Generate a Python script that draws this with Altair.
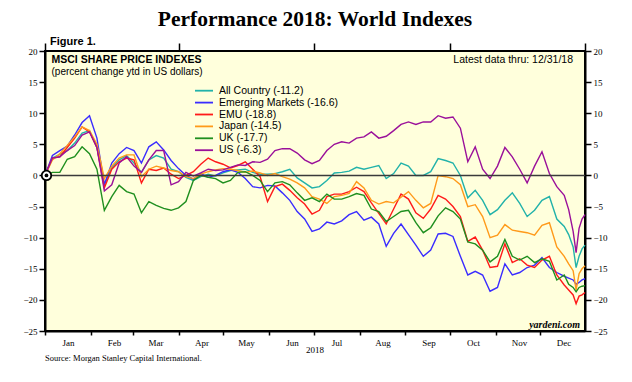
import altair as alt
import pandas as pd

# ---------------- data ----------------
days = list(range(0, 351, 5)) + [353, 356, 358, 360, 362, 364]

series_names = ["All Country", "Emerging Markets", "EMU", "Japan", "UK", "US"]
legend_labels = ["All Country (-11.2)", "Emerging Markets (-16.6)", "EMU (-18.8)",
                 "Japan (-14.5)", "UK (-17.7)", "US (-6.3)"]
colors = ["#22b2aa", "#3a2cff", "#ff1a1a", "#ff9a1a", "#1f8f1f", "#9a109a"]

all_country = [0, 2.8, 3.4, 4.0, 5.2, 6.8, 7.2, 4.5, -1.5, 1.2,
               2.5, 3.2, 2.0, 0.5, 2.5, 3.2, 2.8, 1.0, 0.6, -0.3,
               -0.8, -0.2, 0.2, -0.1, 0.4, 0.8, 0.9, 1.0, 0.5, 0.2,
               0.2, 0.3, 0.6, 1.0, -0.4, -1.2, -2.0, -1.8, -0.8, 0.4,
               0.5, 0.7, 1.3, 1.0, 1.3, 1.6, -0.5, 0.3, 2.0, 1.5,
               0.0, 0.0, 0.6, 2.7, 2.4, 2.0, 0.0, -3.6, -2.4, -4.0,
               -6.3, -5.5, -4.0, -2.8, -4.5, -6.6, -5.6, -4.0, -3.4, -7.0,
               -8.2, -9.5, -11.5, -14.8, -13.0, -11.8, -11.2]
emerging = [0, 3.2, 4.0, 4.7, 6.5, 8.5, 9.6, 6.0, -1.5, 2.0,
            3.5, 4.5, 4.0, 2.0, 4.6, 5.4, 4.1, 2.4, 1.1, 0.0,
            -0.6, 0.3, -0.3, 0.0, 0.6, 0.9, 0.5, -0.5, -1.8, -2.0,
            -1.6, -1.7, -2.8, -4.0, -5.8, -7.0, -9.0, -8.6, -7.5, -7.8,
            -7.3, -6.3, -5.8, -7.2, -6.7, -7.8, -11.4, -9.3, -7.8, -9.5,
            -11.2, -13.0, -12.0, -9.4, -9.3, -9.8, -13.0, -16.0, -15.4, -16.0,
            -18.6, -18.0, -14.2, -16.0, -15.6, -14.8, -14.4, -13.2, -14.8, -15.6,
            -16.2, -16.5, -16.8, -17.5, -17.2, -16.8, -16.6]
emu = [0, 2.8, 3.0, 4.5, 6.0, 7.8, 7.0, 4.5, -2.0, 1.0,
       2.2, 2.8, 2.5, -1.2, 1.0, 0.8, 1.2, 0.2, -0.5, 0.0,
       0.6, 1.8, 2.8, 2.2, 1.8, 1.2, 1.6, 2.2, 1.0, -0.2,
       -4.2, -1.8, -1.4, -2.4, -3.6, -4.6, -6.2, -5.6, -3.4, -3.0,
       -3.0, -2.6, -1.9, -2.6, -4.4, -6.1, -7.8, -5.4, -3.0, -3.8,
       -6.0, -6.9, -5.4, -3.2, -3.8, -5.0, -6.6, -10.6, -9.9, -12.0,
       -14.8, -14.6, -11.0, -14.0, -13.4, -14.4, -14.8, -13.6, -13.0, -16.0,
       -17.6, -18.4, -19.2, -20.6, -19.4, -19.2, -18.8]
japan = [0, 2.5, 3.5, 4.8, 6.2, 7.8, 7.2, 5.0, -0.5, 1.5,
         2.8, 3.3, 3.3, -0.2, 1.0, 1.5, 1.2, 0.8, 0.6, -0.2,
         -0.5, 0.2, 0.6, 0.9, 1.1, 1.0, 0.8, 0.5, 0.7, 0.4,
         0.0, 0.3, -0.2, -0.6, -1.2, -2.0, -3.4, -3.8, -4.5, -3.4,
         -3.2, -2.9, -1.0, -2.0, -4.0, -4.6, -4.2, -4.4, -3.5, -2.6,
         -4.0, -5.2, -4.5, 0.0, -0.2, -0.5, -1.5, -5.0, -4.7, -6.6,
         -10.0, -9.6, -7.9, -8.8, -9.0, -9.2, -9.6, -8.0, -7.6, -11.5,
         -13.0, -14.2, -15.3, -18.4, -15.8, -15.0, -14.5]
uk = [0, 0.5, 0.5, 2.6, 3.0, 4.6, 3.5, 1.0, -5.6, -3.4,
      -1.6, -2.6, -3.0, -6.0, -4.2, -4.8, -5.3, -5.6, -5.2, -4.2,
      -0.8, 0.0, -0.3, -0.5, -1.2, -0.8, 0.5, 0.6, 0.0, -0.8,
      -2.6, -1.2, -1.0, -1.5, -2.8, -4.0, -3.6, -4.2, -3.0, -3.8,
      -3.8, -3.4, -2.9, -3.2, -5.4, -5.8, -7.4, -6.6, -5.8, -5.6,
      -7.6, -9.2, -8.4, -6.5, -5.2, -5.8, -7.0, -10.7, -11.0, -12.0,
      -13.9, -13.0, -10.3, -13.0, -13.6, -13.0, -14.0, -13.4, -13.8, -16.8,
      -16.0, -17.5, -18.0, -18.7, -18.0, -17.8, -17.7]
us = [0, 2.8, 3.0, 4.0, 4.8, 6.5, 7.0, 4.5, -2.5, -1.5,
      2.0, 3.0, 1.5, 0.5, 2.5, 4.0, 4.0, -1.5, -1.0, 0.5,
      -0.1, 0.4, 1.0, 0.8, 0.9, 1.3, 1.7, 1.6, 2.2, 2.1,
      2.6, 4.0, 4.3, 4.3, 3.6, 2.5, 1.9, 2.4, 4.0, 5.0,
      5.4, 5.2, 6.0, 6.2, 7.0, 6.0, 6.3, 7.2, 8.2, 8.6,
      8.2, 8.6, 8.6, 9.6, 9.2, 9.4, 7.6, 2.2, 4.6, 1.0,
      -0.5, 1.5, 4.5, 3.0, 1.0, -1.2, 1.5, 3.8, 0.3, -1.8,
      -3.2, -5.5, -9.0, -12.4, -8.5, -7.0, -6.3]

y_ticks = [-25, -20, -15, -10, -5, 0, 5, 10, 15, 20]

# ---------------- build table ----------------
dates = pd.Timestamp("2018-01-01") + pd.to_timedelta(days, unit="D")
rows = []
for name, vals in zip(series_names, [all_country, emerging, emu, japan, uk, us]):
    for d, v in zip(dates, vals):
        rows.append({"date": d, "series": name, "value": v})
df = pd.DataFrame(rows)

SERIF = "Liberation Serif"
SANS = "Liberation Sans"

xscale = alt.Scale(domain=[alt.DateTime(year=2018, month=1, date=1),
                           alt.DateTime(year=2018, month=12, date=31)], nice=False)
yscale = alt.Scale(domain=[-25, 20], nice=False, zero=False)

month_vals = [alt.DateTime(year=2018, month=m, date=1) for m in range(1, 13)]
quarter_vals = [alt.DateTime(year=2018, month=m, date=1) for m in (1, 4, 7, 10)] + \
               [alt.DateTime(year=2018, month=12, date=31)]

x_month_axis = alt.Axis(values=month_vals, format="%b", labelOffset=23, tickSize=4,
                        tickColor="black", tickWidth=1.5, domainColor="black",
                        domainWidth=2, labelFont=SERIF, labelFontSize=9,
                        labelColor="black", labelPadding=3, grid=False, title=None,
                        labelFlush=False, labelOverlap=False, labelBound=False)
x_quarter_axis = alt.Axis(values=quarter_vals, labels=False, tickSize=8,
                          tickWidth=1.5, tickColor="black", domain=False,
                          grid=False, title=None)

def y_axis(orient):
    return alt.Axis(values=y_ticks, orient=orient, tickSize=6, tickColor="black",
                    tickWidth=1.5, domainColor="black", domainWidth=2,
                    labelFont=SERIF, labelFontSize=9, labelColor="black",
                    labelPadding=2, grid=False, title=None, labelFlush=False,
                    labelOverlap=False)

lines = alt.Chart(df).mark_line(strokeWidth=1.4).encode(
    x=alt.X("date:T", scale=xscale, axis=x_month_axis),
    y=alt.Y("value:Q", scale=yscale, axis=y_axis("left")),
    color=alt.Color("series:N", scale=alt.Scale(domain=series_names, range=colors),
                    legend=None),
    order=alt.Order("date:T"),
)

zero = alt.Chart(pd.DataFrame({"v": [0]})).mark_rule(color="#3a3a3a", strokeWidth=1.5).encode(
    y=alt.Y("v:Q", scale=yscale, axis=y_axis("right"))
)

marker_df = pd.DataFrame({"date": [pd.Timestamp("2018-01-02")], "v": [0]})
marker_ring = alt.Chart(marker_df).mark_point(
    filled=True, fill="white", stroke="black", strokeWidth=1.8, size=90, opacity=1
).encode(
    x=alt.X("date:T", scale=xscale, axis=x_quarter_axis),
    y=alt.Y("v:Q", scale=yscale, axis=None),
)
marker_dot = alt.Chart(marker_df).mark_point(filled=True, color="black", size=14, opacity=1).encode(
    x=alt.X("date:T", scale=xscale, axis=None),
    y=alt.Y("v:Q", scale=yscale, axis=None),
)

one = pd.DataFrame({"a": [0]})

def label(text, x, y, size, font=SANS, weight="normal", align="left", style="normal"):
    return alt.Chart(one).mark_text(
        text=text, align=align, baseline="middle", font=font, fontSize=size,
        fontWeight=weight, fontStyle=style, color="black"
    ).encode(x=alt.value(x), y=alt.value(y))

texts = [
    label("Performance 2018: World Indexes", 270, -31, 21.5, SERIF, "bold", "center"),
    label("Figure 1.", 5, -9, 11, SANS, "bold"),
    label("MSCI SHARE PRICE INDEXES", 6.5, 8.5, 10.5, SANS, "bold"),
    label("(percent change ytd in US dollars)", 6.5, 20.5, 10, SANS),
    label("Latest data thru: 12/31/18", 528, 9, 10.5, SANS, align="right"),
    label("yardeni.com", 535, 274, 10, SERIF, "bold", "right", "italic"),
    label("2018", 270, 299, 9, SERIF, align="center"),
    label("Source: Morgan Stanley Capital International.", 0, 307, 8.5, SERIF),
]

legend_layers = []
for i, (lab, col) in enumerate(zip(legend_labels, colors)):
    yy = 39.7 + 11.9 * i
    legend_layers.append(
        alt.Chart(one).mark_rule(color=col, strokeWidth=1.8).encode(
            x=alt.value(150), x2=alt.value(168), y=alt.value(yy))
    )
    legend_layers.append(label(lab, 174, yy, 10.5, SANS))

chart = alt.layer(
    lines, zero, marker_ring, marker_dot, *legend_layers, *texts
).resolve_axis(
    x="independent", y="independent"
).properties(
    width=540, height=280,
    autosize=alt.AutoSizeParams(type="none"),
    padding={"left": 37, "top": 43, "right": 39, "bottom": 43},
    background="white",
).configure_view(
    fill="#ffffdc", stroke="black", strokeWidth=2
)

chart.save("out.html", embed_options={"renderer": "svg", "actions": False})
